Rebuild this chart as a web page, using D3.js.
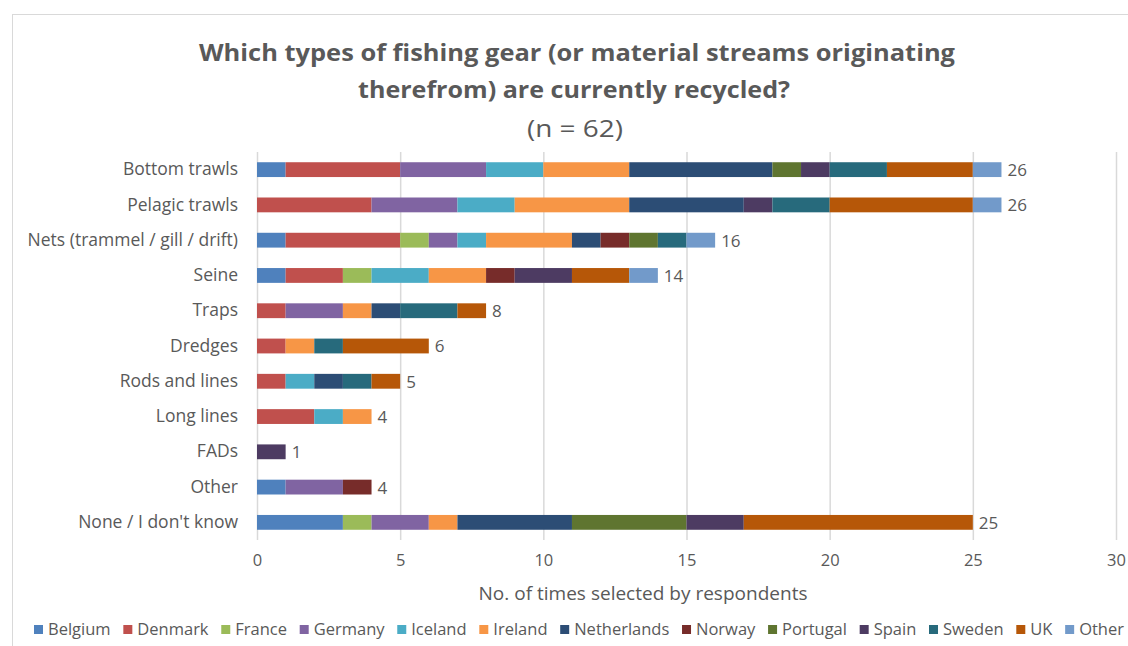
<!DOCTYPE html>
<html><head><meta charset="utf-8">
<script src="https://cdn.jsdelivr.net/npm/d3@7"></script>
<style>
body{margin:0;background:#fff;}
svg{display:block;font-family:"Open Sans",sans-serif;}
</style></head><body>
<svg id="chart" width="1128" height="646"></svg>
<script>
const categories = ["Bottom trawls","Pelagic trawls","Nets (trammel / gill / drift)","Seine","Traps","Dredges","Rods and lines","Long lines","FADs","Other","None / I don't know"];
const countries = ["Belgium","Denmark","France","Germany","Iceland","Ireland","Netherlands","Norway","Portugal","Spain","Sweden","UK","Other"];
const colors = ["#4F81BD","#C0504D","#9BBB59","#8064A2","#4BACC6","#F79646","#2C4D75","#772C2A","#5F7530","#4D3B62","#276A7C","#B65708","#729ACA"];
// values per country, in category order
const Belgium     = [1,0,1,1,0,0,0,0,0,1,3];
const Denmark     = [4,4,4,2,1,1,1,2,0,0,0];
const France      = [0,0,1,1,0,0,0,0,0,0,1];
const Germany     = [3,3,1,0,2,0,0,0,0,2,2];
const Iceland     = [2,2,1,2,0,0,1,1,0,0,0];
const Ireland     = [3,4,3,2,1,1,0,1,0,0,1];
const Netherlands = [5,4,1,0,1,0,1,0,0,0,4];
const Norway      = [0,0,1,1,0,0,0,0,0,1,0];
const Portugal    = [1,0,1,0,0,0,0,0,0,0,4];
const Spain       = [1,1,0,2,0,0,0,0,1,0,2];
const Sweden      = [2,2,1,0,2,1,1,0,0,0,0];
const UK          = [3,5,0,2,1,3,1,0,0,0,8];
const OtherC      = [1,1,1,1,0,0,0,0,0,0,0];
const xTicks = [0,5,10,15,20,25,30];

const seriesArrays = [Belgium,Denmark,France,Germany,Iceland,Ireland,Netherlands,Norway,Portugal,Spain,Sweden,UK,OtherC];
const rows = categories.map((c,i)=>{const r={cat:c}; countries.forEach((k,j)=>r[k]=seriesArrays[j][i]); return r;});
const stack = d3.stack().keys(countries)(rows);
const totals = rows.map(r=>d3.sum(countries,k=>r[k]));

const svg = d3.select("#chart");
const grey = "#595959";

// outer border
svg.append("rect").attr("x",12.5).attr("y",14.5).attr("width",1130).attr("height",650)
  .attr("fill","none").attr("stroke","#d9d9d9");

const x = d3.scaleLinear().domain([0,30]).range([257,1116]);
const y = d3.scaleBand().domain(categories).range([152,540]).paddingInner(0.58).paddingOuter(0.29);

// gridlines
svg.append("g").selectAll("line").data(xTicks).join("line")
  .attr("x1",d=>x(d)+0.5).attr("x2",d=>x(d)+0.5).attr("y1",152).attr("y2",540)
  .attr("stroke","#d9d9d9").attr("stroke-width",1.5);

// bars
svg.append("g").selectAll("g").data(stack).join("g")
  .attr("fill",(d,i)=>colors[i])
  .selectAll("rect").data(d=>d.filter(s=>s[1]>s[0])).join("rect")
  .attr("x",d=>x(d[0])).attr("width",d=>x(d[1])-x(d[0]))
  .attr("y",d=>y(d.data.cat)).attr("height",y.bandwidth());

// value labels
svg.append("g").selectAll("text").data(categories).join("text")
  .attr("x",(c,i)=>x(totals[i])+6).attr("y",c=>y(c)+y.bandwidth()/2)
  .attr("dy","0.38em").attr("fill",grey).attr("font-size",17).text((c,i)=>totals[i]);

// y axis labels
const yAxis = d3.axisLeft(y).tickSize(0).tickPadding(19);
const yg = svg.append("g").attr("transform","translate(257,0)").call(yAxis);
yg.select(".domain").remove();
yg.selectAll("text").attr("fill",grey).attr("font-size",17.5).attr("font-family","Open Sans");

// x axis
const xAxis = d3.axisBottom(x).tickValues(xTicks).tickSize(0).tickPadding(14);
const xg = svg.append("g").attr("transform","translate(0,540)").call(xAxis);
xg.select(".domain").remove();
xg.selectAll("text").attr("fill",grey).attr("font-size",16.5).attr("font-family","Open Sans");

svg.append("text").attr("x",643).attr("y",600).attr("text-anchor","middle")
  .attr("fill",grey).attr("font-size",18).attr("textLength",329).attr("lengthAdjust","spacingAndGlyphs")
  .text("No. of times selected by respondents");

// title
svg.append("text").attr("x",577).attr("y",61).attr("text-anchor","middle").attr("fill",grey)
  .attr("font-weight","bold").attr("font-size",24).attr("textLength",756).attr("lengthAdjust","spacingAndGlyphs")
  .text("Which types of fishing gear (or material streams originating");
svg.append("text").attr("x",574).attr("y",98).attr("text-anchor","middle").attr("fill",grey)
  .attr("font-weight","bold").attr("font-size",24).attr("textLength",432).attr("lengthAdjust","spacingAndGlyphs")
  .text("therefrom) are currently recycled?");
svg.append("text").attr("x",575).attr("y",137).attr("text-anchor","middle").attr("fill",grey)
  .attr("font-size",24).attr("textLength",96).attr("lengthAdjust","spacingAndGlyphs")
  .text("(n = 62)");

// legend
const lg = svg.append("g").attr("transform","translate(34,635)");
const items = lg.selectAll("g").data(countries).join("g");
items.append("rect").attr("width",9).attr("height",9).attr("y",-10).attr("fill",(d,i)=>colors[i]);
items.append("text").attr("x",14).attr("fill",grey).attr("font-size",16.5).text(d=>d);
const widths = [];
items.each(function(){ widths.push(14 + d3.select(this).select("text").node().getComputedTextLength()); });
const gap = Math.max(4, (1090 - d3.sum(widths)) / (countries.length - 1));
let cx = 0;
items.each(function(d,i){
  d3.select(this).attr("transform",`translate(${cx},0)`);
  cx += widths[i] + gap;
});
</script>
</body></html>
